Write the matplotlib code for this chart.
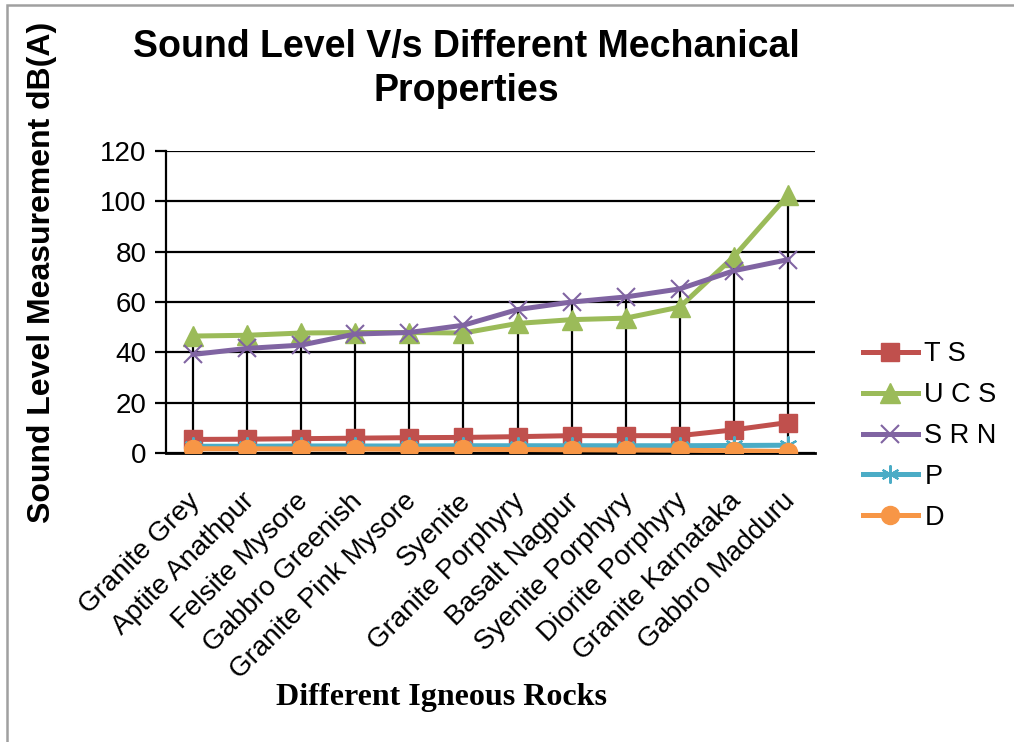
import numpy as np
import matplotlib.pyplot as plt
import matplotlib.transforms as mtransforms
from matplotlib.patches import Rectangle

# Rock samples and measured properties (sound level dB(A))
rocks = ['Granite Grey', 'Aptite Anathpur', 'Felsite Mysore', 'Gabbro Greenish',
         'Granite Pink Mysore', 'Syenite', 'Granite Porphyry', 'Basalt Nagpur',
         'Syenite Porphyry', 'Diorite Porphyry', 'Granite Karnataka', 'Gabbro Madduru']
ts = [5.5, 5.6, 5.8, 6.0, 6.2, 6.3, 6.6, 7.0, 7.0, 7.0, 9.3, 12.2]
ucs = [46.5, 46.8, 47.7, 47.9, 47.9, 47.7, 51.5, 53.0, 53.6, 58.0, 78.0, 102.3]
srn = [39.2, 41.6, 42.9, 47.3, 47.9, 50.8, 57.0, 60.0, 62.0, 65.2, 72.4, 76.8]
p = [2.8, 2.8, 2.9, 2.9, 2.9, 3.0, 3.0, 3.0, 3.0, 3.0, 3.1, 3.2]
d = [1.8, 1.8, 1.7, 1.7, 1.6, 1.6, 1.5, 1.4, 1.3, 1.2, 1.0, 0.7]
yticks = [0, 20, 40, 60, 80, 100, 120]

plt.rcParams['font.family'] = ['Liberation Sans', 'DejaVu Sans']

fig = plt.figure(figsize=(10.14, 7.42), dpi=100)
ax = fig.add_axes([166/1014, 288.7/742, 649/1014, 302.6/742])

x = np.arange(len(rocks))
allv = np.array([ts, ucs, srn, p, d])

# high-low lines
ax.vlines(x, allv.min(axis=0), allv.max(axis=0), color='black', lw=1.6, zorder=2)

ax.plot(x, ts, color='#C0504D', lw=3.6, marker='s', ms=13, label='T S', zorder=3)
ax.plot(x, ucs, color='#9BBB59', lw=3.6, marker='^', ms=15, label='U C S', zorder=4)
ax.plot(x, srn, color='#8064A2', lw=3.6, marker='x', ms=13, mew=1.5, label='S R N', zorder=5)
ax.plot(x, p, color='#4BACC6', lw=3.6, marker=(6, 2, 0), ms=13, mew=1.5, label='P', zorder=6)
ax.plot(x, d, color='#F79646', lw=3.6, marker='o', ms=13, label='D', zorder=7)

ax.set_xlim(-0.5, len(rocks) - 0.5)
ax.set_ylim(0, 120)
ax.set_yticks(yticks)
ax.set_yticklabels([str(v) for v in yticks], fontsize=20)
ax.yaxis.grid(True, color='black', lw=1.6)
ax.set_axisbelow(True)
ax.tick_params(axis='y', length=8, width=1.6, pad=6)
ax.tick_params(axis='x', length=0, pad=25)
ax.set_xticks(x)
ax.set_xticklabels(rocks, rotation=45, ha='right', va='top', rotation_mode='anchor', fontsize=20)
shift = mtransforms.ScaledTranslation(-6/100, 0, fig.dpi_scale_trans)
for lbl in ax.get_xticklabels():
    lbl.set_transform(lbl.get_transform() + shift)
for s in ['top', 'right']:
    ax.spines[s].set_visible(False)
ax.spines['left'].set_linewidth(1.6)
ax.spines['bottom'].set_linewidth(2)
ax.spines['left'].set_zorder(1)

fig.text(466/1014, 1 - 47/742, 'Sound Level V/s Different Mechanical',
         ha='center', va='center', fontsize=27, fontweight='bold')
fig.text(466/1014, 1 - 91/742, 'Properties',
         ha='center', va='center', fontsize=27, fontweight='bold')
fig.text(42/1014, 1 - 272/742, 'Sound Level Measurement dB(A)', rotation=90,
         ha='center', va='center', fontsize=23, fontweight='bold')
fig.text(442/1014, 1 - 697/742, 'Different Igneous Rocks', ha='center', va='center',
         fontsize=23, fontweight='bold', family='Liberation Serif')

ax.legend(loc='center left', bbox_to_anchor=(839/1014, 1 - 436/742),
          bbox_transform=fig.transFigure, frameon=False, fontsize=19.5,
          handlelength=2.0, labelspacing=0.55, handletextpad=0.25)

# outer chart border
fig.patches.append(Rectangle((7/1014, -0.1), 1.2, (742 - 5)/742 + 0.1,
                             transform=fig.transFigure, fill=False,
                             edgecolor='#A0A0A0', lw=1.8))

fig.savefig('out.png', dpi=100)
